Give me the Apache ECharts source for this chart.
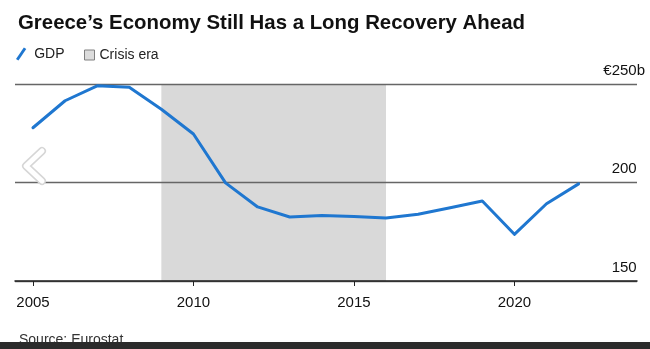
<!DOCTYPE html>
<html>
<head>
<meta charset="utf-8">
<script src="https://cdn.jsdelivr.net/npm/echarts@6/dist/echarts.min.js"></script>
<style>
  html, body { margin: 0; padding: 0; background: #fff; }
  #chart { width: 650px; height: 349px; }
</style>
</head>
<body>
<div id="chart"></div>
<script>
// Greek GDP, € billions, yearly
const years = [2005, 2006, 2007, 2008, 2009, 2010, 2011, 2012, 2013, 2014, 2015, 2016, 2017, 2018, 2019, 2020, 2021, 2022];
const gdp = [227.8, 241.5, 249.1, 248.3, 237.2, 224.6, 199.8, 187.6, 182.5, 183.2, 182.8, 182.0, 183.9, 187.2, 190.6, 173.7, 189.2, 199.3];

// Crisis period shaded behind the line
const crisisStart = 2009;
const crisisEnd = 2016;

// Axis ticks
const xTicks = [2005, 2010, 2015, 2020];
const yTicks = [150, 200, 250];

const FONT = "'Liberation Sans', Arial, Helvetica, sans-serif";
const BLUE = '#1f77d0';

const chart = echarts.init(document.getElementById('chart'), null, { renderer: 'canvas' });

chart.setOption({
  animation: false,
  backgroundColor: '#ffffff',
  title: [
    {
      text: 'Greece\u2019s Economy Still Has a Long Recovery Ahead',
      left: 13,
      top: 8,
      textStyle: { fontFamily: FONT, fontWeight: 'bold', fontSize: 20.4, color: '#111' }
    },
    {
      text: 'Source: Eurostat',
      left: 14,
      top: 328,
      textStyle: { fontFamily: FONT, fontWeight: 'normal', fontSize: 14, color: '#333' }
    }
  ],
  legend: [
    {
      left: 11,
      top: 42,
      itemWidth: 16,
      itemHeight: 13,
      selectedMode: false,
      textStyle: { fontFamily: FONT, fontSize: 14, color: '#222' },
      data: [{ name: 'GDP', icon: 'path://M0,10.6 L7.2,0 L9.4,1.3 L2.2,11.9 Z', itemStyle: { color: BLUE } }]
    },
    {
      left: 79,
      top: 43,
      itemWidth: 10,
      itemHeight: 10,
      itemGap: 0,
      selectedMode: false,
      textStyle: { fontFamily: FONT, fontSize: 14, color: '#222' },
      data: [{ name: 'Crisis era', icon: 'rect', itemStyle: { color: '#dcdcdc', borderColor: '#808080', borderWidth: 1 } }]
    }
  ],
  grid: { left: 15, right: 13, top: 84, bottom: 68, containLabel: false },
  xAxis: {
    type: 'value',
    min: 2004.44,
    max: 2023.82,
    z: 3,
    splitLine: { show: false },
    axisLine: { show: true, lineStyle: { color: '#222', width: 1.5 } },
    axisTick: { show: true, length: 5, customValues: xTicks, lineStyle: { color: '#222', width: 1 } },
    axisLabel: {
      customValues: xTicks,
      margin: 14,
      fontFamily: FONT,
      fontSize: 15,
      color: '#111',
      formatter: v => String(v)
    }
  },
  yAxis: {
    type: 'value',
    position: 'right',
    min: yTicks[0],
    max: yTicks[yTicks.length - 1],
    interval: 50,
    z: 3,
    axisLine: { show: false },
    axisTick: { show: false },
    splitLine: { show: true, lineStyle: { color: '#666', width: 1.3 } },
    axisLabel: {
      inside: true,
      margin: -8,
      verticalAlign: 'bottom',
      padding: [0, 0, 6, 0],
      fontFamily: FONT,
      fontSize: 15,
      color: '#111',
      // the top tick carries the unit; its "b" sits past the column of numbers
      formatter: v => v === yTicks[yTicks.length - 1] ? '{u|\u20ac' + v + 'b}' : '{p|' + v + '}',
      rich: {
        u: { fontFamily: FONT, fontSize: 15, color: '#111' },
        p: { fontFamily: FONT, fontSize: 15, color: '#111', padding: [0, 8.3, 0, 0] }
      }
    }
  },
  series: [
    {
      name: 'Crisis era',
      type: 'line',
      data: [],
      z: 1,
      silent: true,
      itemStyle: { color: '#d9d9d9' },
      markArea: {
        silent: true,
        itemStyle: { color: '#d9d9d9' },
        data: [[{ xAxis: crisisStart }, { xAxis: crisisEnd }]]
      }
    },
    {
      name: 'GDP',
      type: 'line',
      z: 5,
      data: years.map((y, i) => [y, gdp[i]]),
      showSymbol: false,
      symbol: 'none',
      lineStyle: { color: BLUE, width: 3, join: 'round', cap: 'round' },
      itemStyle: { color: BLUE }
    }
  ],
  graphic: [
    // carousel chevron overlay on the left edge
    {
      type: 'polyline',
      z: 20,
      shape: { points: [[42, 151], [26, 166], [42, 181]] },
      style: { stroke: '#d6d6d6', lineWidth: 8, fill: null, lineCap: 'round', lineJoin: 'round' }
    },
    {
      type: 'polyline',
      z: 21,
      shape: { points: [[42, 151], [26, 166], [42, 181]] },
      style: { stroke: '#ffffff', lineWidth: 5, fill: null, lineCap: 'round', lineJoin: 'round' }
    },
    // dark strip along the bottom edge
    {
      type: 'rect',
      z: 30,
      shape: { x: 0, y: 342, width: 650, height: 7 },
      style: { fill: '#2b2b2b' }
    }
  ]
});
</script>
</body>
</html>
